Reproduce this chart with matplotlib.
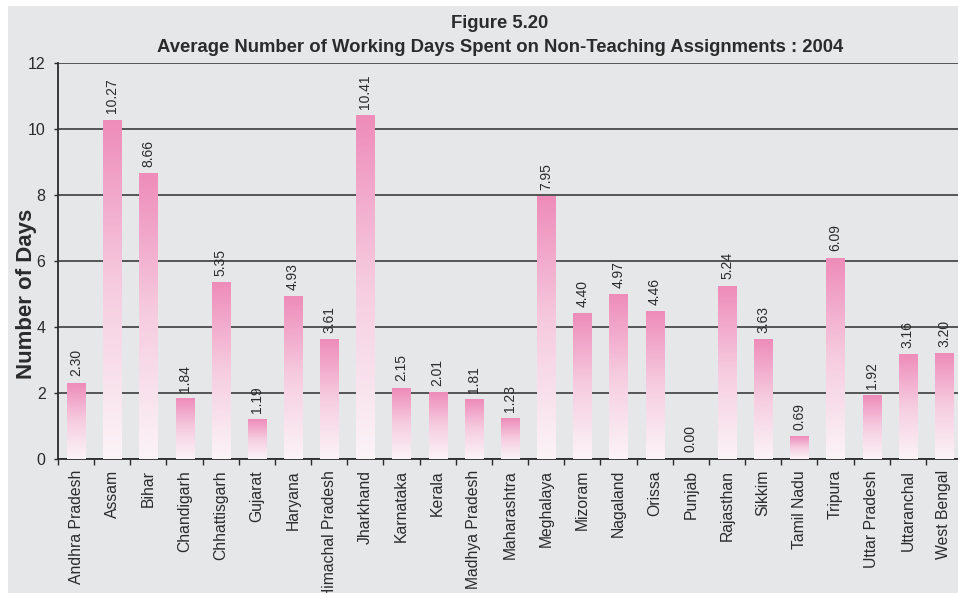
import numpy as np
import matplotlib
matplotlib.use('Agg')
import matplotlib.pyplot as plt
from matplotlib.colors import LinearSegmentedColormap
from matplotlib.patches import Rectangle
from matplotlib.ticker import FixedLocator, NullFormatter

plt.rcParams['font.family'] = ['Liberation Sans', 'DejaVu Sans']

states = ['Andhra Pradesh', 'Assam', 'Bihar', 'Chandigarh', 'Chhattisgarh', 'Gujarat',
          'Haryana', 'Himachal Pradesh', 'Jharkhand', 'Karnataka', 'Kerala',
          'Madhya Pradesh', 'Maharashtra', 'Meghalaya', 'Mizoram', 'Nagaland',
          'Orissa', 'Punjab', 'Rajasthan', 'Sikkim', 'Tamil Nadu', 'Tripura',
          'Uttar Pradesh', 'Uttaranchal', 'West Bengal']
days = [2.30, 10.27, 8.66, 1.84, 5.35, 1.19, 4.93, 3.61, 10.41, 2.15, 2.01,
        1.81, 1.23, 7.95, 4.40, 4.97, 4.46, 0.00, 5.24, 3.63, 0.69, 6.09,
        1.92, 3.16, 3.20]
yticks = [0, 2, 4, 6, 8, 10, 12]

bg = '#e6e7e9'
dark = '#2b2b2b'
pink = LinearSegmentedColormap.from_list('pink', ['#fbf4f7', '#f6cde0', '#ee8cba'])

fig = plt.figure(figsize=(9.58, 5.93), dpi=100)
fig.patches.append(Rectangle((8 / 958, 0), 1, 1 - 6 / 593, transform=fig.transFigure,
                             facecolor=bg, edgecolor='none', zorder=-10))

ax = fig.add_axes([58 / 958, 1 - 459 / 593, 904 / 958, 396 / 593])
ax.set_facecolor(bg)
ax.patch.set_alpha(0)

x = np.arange(len(states))
bars = ax.bar(x, days, width=0.5, color='none', edgecolor='none', zorder=3)
grad = np.linspace(0, 1, 256).reshape(-1, 1)
for b in bars:
    h = b.get_height()
    if h <= 0:
        continue
    x0 = b.get_x()
    ax.imshow(grad, cmap=pink, origin='lower', aspect='auto', zorder=3,
              extent=[x0, x0 + b.get_width(), 0, h], interpolation='bilinear')

for xi, v in zip(x, days):
    ax.text(xi, v + 0.2, f'{v:.2f}', rotation=90, ha='center', va='bottom',
            fontsize=10, color=dark, zorder=4)

ax.set_xlim(-0.5, 24.5)
ax.set_ylim(0, 12)
ax.set_yticks(yticks)
ax.yaxis.grid(True, color='#3c3c3c', linewidth=1.2, zorder=1)
ax.set_axisbelow(True)

ax.xaxis.set_major_locator(FixedLocator(np.arange(-0.5, 25, 1)))
ax.xaxis.set_major_formatter(NullFormatter())
ax.xaxis.set_minor_locator(FixedLocator(x))
ax.set_xticklabels(states, minor=True, rotation=90, fontsize=11.3, color=dark)
ax.tick_params(axis='x', which='major', length=4, width=1, color=dark)
ax.tick_params(axis='x', which='minor', length=0, pad=8)
ax.tick_params(axis='y', length=3, width=1, color=dark, labelsize=11.5,
               labelcolor=dark, pad=6)

for s in ['top', 'right']:
    ax.spines[s].set_visible(False)
for s in ['left', 'bottom']:
    ax.spines[s].set_color(dark)
    ax.spines[s].set_linewidth(1.3)

fig.text(27 / 958, 1 - 294 / 593, 'Number of Days', rotation=90, ha='center',
         va='center', fontsize=16, fontweight='bold', color=dark)
fig.text(500 / 958, 1 - 24 / 593, 'Figure 5.20', ha='center', va='center',
         fontsize=13.3, fontweight='bold', color=dark)
fig.text(500 / 958, 1 - 47 / 593,
         'Average Number of Working Days Spent on Non-Teaching Assignments : 2004',
         ha='center', va='center', fontsize=13.3, fontweight='bold', color=dark)

fig.savefig('out.png', dpi=100)
